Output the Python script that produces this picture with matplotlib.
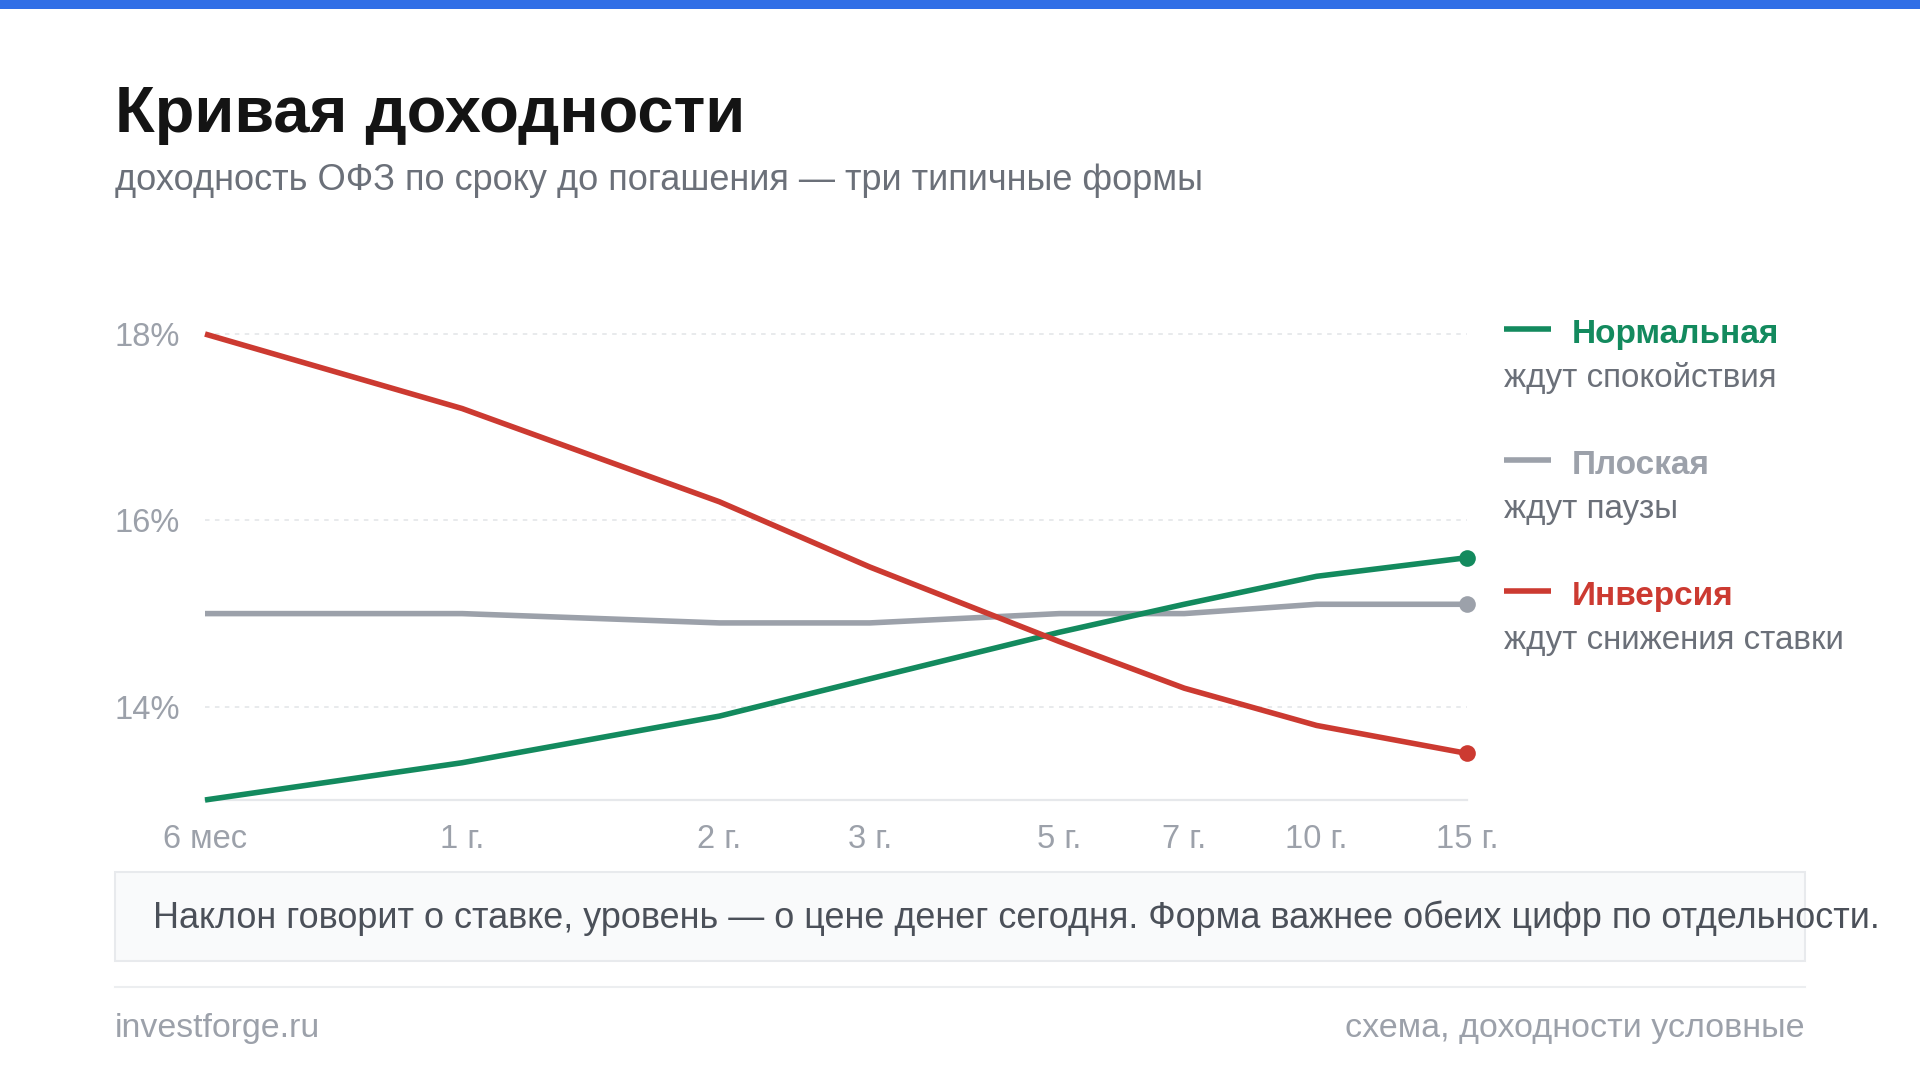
import matplotlib
matplotlib.use("Agg")
import matplotlib.pyplot as plt
from matplotlib.lines import Line2D
from matplotlib.patches import Rectangle

plt.rcParams['font.family'] = ['Liberation Sans', 'DejaVu Sans']

# ---- data ----
maturity_years = [0.5, 1, 2, 3, 5, 7, 10, 15]
maturity_labels = ["6 мес", "1 г.", "2 г.", "3 г.", "5 г.", "7 г.", "10 г.", "15 г."]
normal_yield = [13.0, 13.4, 13.9, 14.3, 14.8, 15.1, 15.4, 15.6]
flat_yield = [15.0, 15.0, 14.9, 14.9, 15.0, 15.0, 15.1, 15.1]
inverse_yield = [18.0, 17.2, 16.2, 15.5, 14.7, 14.2, 13.8, 13.5]
y_ticks = [14, 16, 18]
y_tick_labels = ["14%", "16%", "18%"]
series_names = ["Нормальная", "Плоская", "Инверсия"]
series_notes = ["ждут спокойствия", "ждут паузы", "ждут снижения ставки"]

GREEN = "#138a5e"
GRAY = "#9ca1aa"
RED = "#cc3a31"
BLUE = "#316fe6"

W, H = 1920, 1080
fig = plt.figure(figsize=(W / 100, H / 100), dpi=100)
fig.patch.set_facecolor("white")


def fx(px):
    return px / W


def fy(py):
    return 1 - py / H


# top accent bar
fig.add_artist(Rectangle((0, fy(9)), 1, 9 / H, transform=fig.transFigure,
                         facecolor=BLUE, edgecolor="none"))

# title & subtitle
fig.text(fx(115), fy(132), "Кривая доходности", fontsize=46.8, fontweight="bold",
         color="#141414", va="baseline", ha="left")
fig.text(fx(115), fy(190), "доходность ОФЗ по сроку до погашения — три типичные формы",
         fontsize=26, color="#6b7079", va="baseline", ha="left")

# axes
ax_left, ax_right = 205, 1467
ax_bottom_px = 800
y_lo, y_hi = 13.0, 18.3
px_per_unit = (800 - 334) / 5.0
ax_top_px = ax_bottom_px - (y_hi - y_lo) * px_per_unit
ax = fig.add_axes([fx(ax_left), fy(ax_bottom_px), (ax_right - ax_left) / W,
                   (ax_bottom_px - ax_top_px) / H])
ax.set_xscale("log")
ax.set_xlim(maturity_years[0], maturity_years[-1])
ax.set_ylim(y_lo, y_hi)
ax.set_facecolor("none")
for s in ["top", "right", "left"]:
    ax.spines[s].set_visible(False)
ax.spines["bottom"].set_color("#e6e8eb")
ax.spines["bottom"].set_linewidth(1.6)

ax.set_yticks(y_ticks)
ax.set_yticklabels(y_tick_labels)
ax.set_xticks(maturity_years)
ax.set_xticklabels(maturity_labels)
ax.xaxis.set_minor_locator(matplotlib.ticker.NullLocator())
ax.tick_params(axis="both", length=0, labelsize=23.5, labelcolor="#9ca1aa")
ax.tick_params(axis="y", pad=18)
ax.tick_params(axis="x", pad=17)
ax.grid(axis="y", color="#e6e8eb", linewidth=1.3, linestyle=(0, (2.5, 3)))
ax.grid(axis="x", visible=False)
ax.set_axisbelow(True)

for ys, col in [(flat_yield, GRAY), (normal_yield, GREEN), (inverse_yield, RED)]:
    ax.plot(maturity_years, ys, color=col, linewidth=4.0, solid_capstyle="butt",
            solid_joinstyle="round", clip_on=False, zorder=3)
    ax.plot([maturity_years[-1]], [ys[-1]], "o", color=col, markersize=12,
            markeredgewidth=0, clip_on=False, zorder=4)

# legend on the right
legend_colors = [GREEN, GRAY, RED]
legend_base = [343, 474, 605]
for name, note, col, base in zip(series_names, series_notes, legend_colors, legend_base):
    fig.add_artist(Line2D([fx(1504), fx(1551)], [fy(base - 14), fy(base - 14)],
                          transform=fig.transFigure, color=col, linewidth=4.0,
                          solid_capstyle="butt"))
    fig.text(fx(1572), fy(base), name, fontsize=24, fontweight="bold", color=col,
             va="baseline", ha="left")
    fig.text(fx(1504), fy(base + 44), note, fontsize=23.9, color="#6b7079",
             va="baseline", ha="left")

# note box
fig.add_artist(Rectangle((fx(115), fy(961)), (1805 - 115) / W, (961 - 872) / H,
                         transform=fig.transFigure, facecolor="#f9fafb",
                         edgecolor="#e8eaed", linewidth=1.5))
fig.text(fx(153), fy(928),
         "Наклон говорит о ставке, уровень — о цене денег сегодня. Форма важнее обеих цифр по отдельности.",
         fontsize=25.9, color="#4b5059", va="baseline", ha="left")

# separator and footer
fig.add_artist(Line2D([fx(115), fx(1805)], [fy(987), fy(987)], transform=fig.transFigure,
                      color="#eceef0", linewidth=1.5))
fig.text(fx(115), fy(1037), "investforge.ru", fontsize=24.4, color="#9ca1aa",
         va="baseline", ha="left")
fig.text(fx(1805), fy(1037), "схема, доходности условные", fontsize=24.5, color="#9ca1aa",
         va="baseline", ha="right")

fig.savefig("out.png", dpi=100, facecolor="white")
